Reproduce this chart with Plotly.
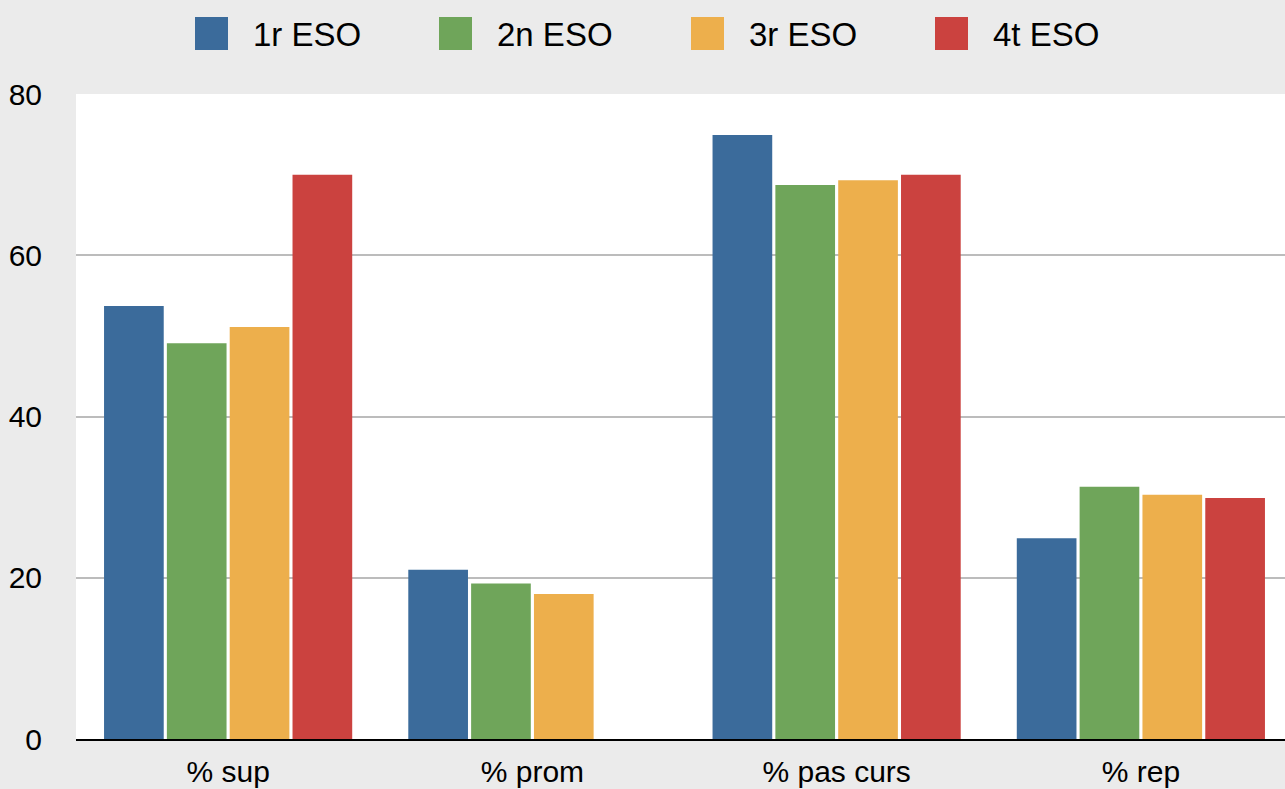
import plotly.graph_objects as go

categories = ["% sup", "% prom", "% pas curs", "% rep"]
series_names = ["1r ESO", "2n ESO", "3r ESO", "4t ESO"]
eso1 = [53.7, 21.0, 74.9, 24.9]
eso2 = [49.1, 19.3, 68.7, 31.3]
eso3 = [51.1, 18.0, 69.3, 30.3]
eso4 = [70.0, None, 70.0, 29.9]
colors = ["#3b6b9b", "#6fa55a", "#edaf4c", "#cb423f"]
y_ticks = [0, 20, 40, 60, 80]

FONT = "Liberation Sans, Arial, Helvetica, sans-serif"

fig = go.Figure()
for name, vals, col in zip(series_names, [eso1, eso2, eso3, eso4], colors):
    fig.add_trace(go.Bar(name=name, x=categories, y=vals, marker_color=col,
                         marker_line_width=0, showlegend=False))

# plot area geometry (pixels); the plot runs slightly past the right window edge
FIG_W, FIG_H = 1293, 789
L, T, W, H = 76, 94, 1217, 645
def px_x(p):
    return (p - L) / W
def px_y(p):
    return (T + H - p) / H

legend_sq_left = [195, 439, 691, 935]
for name, col, sx in zip(series_names, colors, legend_sq_left):
    fig.add_shape(type="rect", xref="paper", yref="paper",
                  x0=px_x(sx), x1=px_x(sx + 33), y0=px_y(50), y1=px_y(17),
                  fillcolor=col, line_width=0)
    fig.add_annotation(xref="paper", yref="paper", x=px_x(sx + 56), y=px_y(34),
                       xanchor="left", yanchor="middle", text=name, showarrow=False,
                       font=dict(family=FONT, size=33, color="#000000"))

fig.update_layout(
    width=FIG_W, height=FIG_H,
    margin=dict(l=L, r=FIG_W - L - W, t=T, b=FIG_H - T - H, pad=0),
    paper_bgcolor="#ebebeb",
    plot_bgcolor="#ffffff",
    barmode="group",
    bargap=0.174,
    bargroupgap=0.05,
    font=dict(family=FONT, size=30, color="#000000"),
)
fig.update_yaxes(range=[0, 80], tickvals=y_ticks, showgrid=True, gridcolor="#bcbcbc",
                 gridwidth=2, zeroline=False, showline=False, ticks="",
                 ticklabelstandoff=33, tickfont=dict(family=FONT, size=30, color="#000000"),
                 fixedrange=True)
fig.update_xaxes(showline=True, linecolor="#000000", linewidth=2, ticks="",
                 showgrid=False, ticklabelstandoff=5,
                 tickfont=dict(family=FONT, size=30, color="#000000"), fixedrange=True)

fig.write_html(
    "out.html",
    config={"displayModeBar": False},
    post_script="document.body.style.margin='0';document.body.style.overflow='hidden';"
                "document.body.style.background='#ebebeb';",
)
